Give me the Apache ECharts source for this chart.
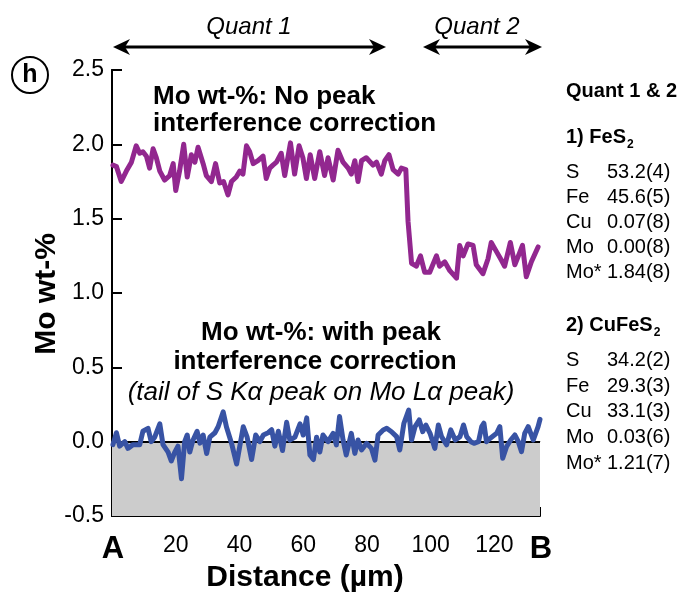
<!DOCTYPE html>
<html><head><meta charset="utf-8">
<script src="https://cdn.jsdelivr.net/npm/echarts/dist/echarts.min.js"></script>
<style>html,body{margin:0;padding:0;background:#fff}#c{width:684px;height:596px}</style>
</head><body><div id="c"></div>
<script>
// Distance (µm) and Mo wt-% without peak interference correction
const purpleX = [0.3,1.4,2.9,4.5,6.1,7.6,8.7,9.7,10.8,11.8,12.9,13.9,15.0,16.5,18.1,19.2,20.0,21.2,22.5,23.6,24.9,26.0,27.0,28.6,29.6,31.2,32.5,33.8,35.0,36.4,37.5,39.0,40.1,41.1,42.2,43.2,44.3,45.8,47.4,48.4,49.5,50.5,51.6,53.1,54.2,56.0,57.3,58.7,59.9,61.0,62.2,63.6,65.2,66.7,67.8,69.4,70.9,72.5,74.1,75.1,76.2,77.2,78.3,79.8,81.9,83.0,84.5,85.6,86.9,88.2,89.8,90.8,92.2,92.9,94.0,95.5,96.8,98.1,99.7,101.8,102.8,104.4,106.0,108.1,109.1,110.2,111.7,113.3,114.3,116.4,118.0,119.0,120.6,122.2,123.2,125.0,126.4,127.9,128.8,130.0,131.6,133.7];
const purpleY = [1.86,1.85,1.75,1.82,1.88,1.99,1.94,1.95,1.92,1.84,1.97,1.91,1.82,1.76,1.79,1.87,1.69,1.82,2.00,1.78,1.93,1.88,1.98,1.87,1.79,1.75,1.87,1.74,1.75,1.66,1.75,1.78,1.82,1.80,1.99,1.95,1.87,1.89,1.92,1.77,1.84,1.86,1.88,1.94,1.79,2.01,1.80,1.99,1.91,1.77,1.93,1.77,1.95,1.79,1.91,1.76,1.96,1.88,1.84,1.80,1.89,1.75,1.89,1.91,1.86,1.88,1.80,1.89,1.93,1.83,1.80,1.84,1.83,1.48,1.20,1.18,1.25,1.14,1.14,1.25,1.18,1.21,1.15,1.10,1.32,1.25,1.33,1.32,1.19,1.13,1.23,1.34,1.28,1.22,1.18,1.34,1.19,1.27,1.32,1.11,1.21,1.31];
// Mo wt-% with peak interference correction
const blueX = [0.3,1.4,2.4,4.0,5.0,6.6,8.7,9.7,11.3,12.3,13.4,15.0,16.0,17.6,18.6,19.7,20.7,21.8,22.8,23.6,24.4,25.4,26.7,27.6,28.6,29.7,30.7,32.3,33.3,34.9,35.9,37.5,39.1,40.1,41.2,42.4,43.8,45.1,46.4,47.5,49.0,50.1,51.1,52.2,53.5,54.8,55.8,57.4,59.0,60.0,61.1,62.1,63.2,64.2,65.2,66.2,67.8,69.4,70.4,71.4,72.5,73.5,75.1,76.2,77.2,78.3,79.9,81.4,82.5,83.5,85.1,86.2,87.7,89.3,90.3,91.6,92.2,93.1,94.0,95.1,96.4,97.5,98.5,99.8,101.3,102.4,103.4,105.0,106.3,107.7,109.2,110.3,111.3,112.6,113.6,115.0,116.0,116.7,117.5,118.6,120.7,121.7,122.6,123.8,125.1,126.4,127.5,128.5,129.5,130.6,132.2,133.7,134.3];
const blueY = [-0.02,0.06,-0.03,0.00,-0.045,-0.02,-0.02,0.07,0.09,0.00,0.03,0.12,-0.02,-0.07,-0.13,-0.07,-0.03,-0.25,0.00,0.045,-0.07,0.01,0.07,-0.01,0.045,-0.08,0.03,0.06,0.10,0.20,0.10,-0.01,-0.15,-0.03,0.10,0.03,-0.12,0.045,0.00,0.045,0.06,0.08,-0.03,0.07,-0.06,0.13,0.01,0.03,0.12,0.045,0.16,-0.09,-0.12,0.03,-0.07,0.045,0.00,0.056,-0.022,0.169,0.011,-0.09,0.056,-0.079,0.011,-0.056,-0.011,-0.045,-0.124,0.045,0.079,0.09,0.067,0.034,-0.056,0.124,0.112,0.213,0.011,0.101,0.146,0.067,0.112,0.056,-0.045,0.112,0.034,-0.022,0.079,0.011,0.034,0.112,0.034,0.0,-0.011,0.0,0.101,0.124,0.0,0.022,0.056,0.101,-0.112,-0.034,0.011,0.045,0.0,-0.067,0.056,0.101,0.011,0.101,0.15];
const yTicks = [-0.5, 0.0, 0.5, 1.0, 1.5, 2.0, 2.5];
const xTicks = [0, 20, 40, 60, 80, 100, 120];
const xMax = 134.3;
const quantLabels = ['Quant 1', 'Quant 2'];
const panelTitle = 'Quant 1 & 2';
const phase1Rows = [['S','53.2(4)'],['Fe','45.6(5)'],['Cu','0.07(8)'],['Mo','0.00(8)'],['Mo*','1.84(8)']];
const phase2Rows = [['S','34.2(2)'],['Fe','29.3(3)'],['Cu','33.1(3)'],['Mo','0.03(6)'],['Mo*','1.21(7)']];

const F = 'Liberation Sans, Arial, sans-serif';
const chart = echarts.init(document.getElementById('c'), null, {renderer:'canvas'});
const pairs = (xs, ys) => xs.map((x, i) => [x, ys[i]]);
const mctx = document.createElement('canvas').getContext('2d');
const measure = (s, font) => { mctx.font = font; return mctx.measureText(s).width; };

const graphics = [];
function txt(x, y, s, o) {
  graphics.push({type:'text', x, y, rotation: (o && o.rot) || 0, z: 100,
    style: {text: s, fill:'#000', font: (o && o.font) || ('20px ' + F),
      textAlign: (o && o.align) || 'left', textVerticalAlign: 'middle'}});
}
function arrow(x1, x2, y) {
  graphics.push({type:'line', shape:{x1:x1+10, y1:y, x2:x2-10, y2:y}, style:{stroke:'#000', lineWidth:3}, z:100});
  graphics.push({type:'polygon', shape:{points:[[x1,y],[x1+17,y-8],[x1+12,y],[x1+17,y+8]]}, style:{fill:'#000'}, z:100});
  graphics.push({type:'polygon', shape:{points:[[x2,y],[x2-17,y-8],[x2-12,y],[x2-17,y+8]]}, style:{fill:'#000'}, z:100});
}
function withSub(x, y, s, sub, font, subFont) {
  txt(x, y, s, {font});
  txt(x + measure(s, font) + 1, y + 8, sub, {font: subFont});
}
// top annotations
txt(249, 27, quantLabels[0], {font:'italic 24px ' + F, align:'center'});
txt(477, 27, quantLabels[1], {font:'italic 24px ' + F, align:'center'});
arrow(113, 386, 47);
arrow(423, 542, 47);
// panel label
graphics.push({type:'circle', shape:{cx:30, cy:75, r:18}, style:{fill:'#fff', stroke:'#000', lineWidth:2}, z:100});
txt(30, 75, 'h', {font:'bold 25px ' + F, align:'center'});
// axis titles
txt(47, 294, 'Mo wt-%', {font:'bold 30px ' + F, align:'center', rot:Math.PI/2});
txt(305, 578, 'Distance (µm)', {font:'bold 30px ' + F, align:'center'});
txt(113, 549, 'A', {font:'bold 31px ' + F, align:'center'});
txt(541, 549, 'B', {font:'bold 31px ' + F, align:'center'});
// in-plot annotations
txt(153, 97, 'Mo wt-%: No peak', {font:'bold 26px ' + F});
txt(153, 124, 'interference correction', {font:'bold 26px ' + F});
txt(321, 333, 'Mo wt-%: with peak', {font:'bold 26px ' + F, align:'center'});
txt(315, 362, 'interference correction', {font:'bold 26px ' + F, align:'center'});
txt(321, 393, '(tail of S K\u03b1 peak on Mo L\u03b1 peak)', {font:'italic 26px ' + F, align:'center'});
// right panel
txt(566, 91, panelTitle, {font:'bold 20px ' + F});
withSub(566, 137, '1) FeS', '2', 'bold 20px ' + F, 'bold 12px ' + F);
const r1 = [172, 197, 222, 247, 272];
phase1Rows.forEach((r, i) => { txt(566, r1[i], r[0]); txt(607, r1[i], r[1]); });
withSub(566, 325, '2) CuFeS', '2', 'bold 20px ' + F, 'bold 12px ' + F);
const r2 = [360, 386, 411, 437, 463];
phase2Rows.forEach((r, i) => { txt(566, r2[i], r[0]); txt(607, r2[i], r[1]); });

chart.setOption({
  animation: false,
  backgroundColor: '#fff',
  grid: {left:112, top:70, right:144, bottom:80, containLabel:false},
  xAxis: [{
    type:'value', min:0, max:xMax, interval:20,
    axisLine:{show:true, onZero:false, lineStyle:{color:'#000', width:2}},
    axisTick:{show:true, inside:true, length:9, lineStyle:{color:'#000', width:2}},
    axisLabel:{fontFamily:F, fontSize:23, color:'#000', margin:18,
      formatter: v => (xTicks.indexOf(v) > 0 ? String(v) : '')},
    splitLine:{show:false}
  },{
    type:'value', position:'top', min:0, max:xMax,
    axisLine:{show:true, lineStyle:{color:'#777', width:1}},
    axisTick:{show:false}, axisLabel:{show:false}, splitLine:{show:false}
  }],
  yAxis: [{
    type:'value', min:yTicks[0], max:yTicks[yTicks.length-1], interval:0.5,
    axisLine:{show:true, onZero:false, lineStyle:{color:'#000', width:2}},
    axisTick:{show:true, inside:true, length:10, lineStyle:{color:'#000', width:2}},
    axisLabel:{fontFamily:F, fontSize:23, color:'#000', margin:8, formatter: v => v.toFixed(1)},
    splitLine:{show:false}
  },{
    type:'value', position:'right', min:yTicks[0], max:yTicks[yTicks.length-1],
    axisLine:{show:true, lineStyle:{color:'#000', width:2}},
    axisTick:{show:false}, axisLabel:{show:false}, splitLine:{show:false}
  }],
  series: [{
    type:'line', data: pairs(blueX, blueY), symbol:'none',
    lineStyle:{color:'#3853a4', width:5, join:'round', cap:'round'}, z:5,
    markArea:{silent:true, itemStyle:{color:'#cccccc'}, data:[[{yAxis:-0.5},{yAxis:0}]]},
    markLine:{silent:true, symbol:'none', label:{show:false}, lineStyle:{color:'#000', width:2, type:'solid'}, data:[{yAxis:0}]}
  },{
    type:'line', data: pairs(purpleX, purpleY), symbol:'none',
    lineStyle:{color:'#92278f', width:5, join:'round', cap:'round'}, z:5
  }],
  graphic: graphics
});
</script>
</body></html>
